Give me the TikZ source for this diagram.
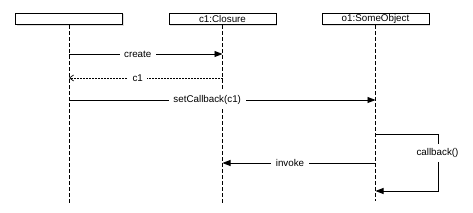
\documentclass[tikz,border=0pt]{standalone}
\usepackage{fontspec}
\setmainfont{Liberation Sans}
\usetikzlibrary{arrows.meta,shadows}
\begin{document}
\begin{tikzpicture}[x=1pt,y=-1pt,
  font=\fontsize{9.8}{11}\selectfont,
  obj/.style={draw,fill=white,line width=0.8pt,minimum width=107pt,minimum height=11.5pt,inner sep=0pt,
    drop shadow={shadow xshift=1pt,shadow yshift=-1pt,opacity=0.25}},
  life/.style={dash pattern=on 3.5pt off 2.5pt,line width=0.7pt},
  msg/.style={line width=0.8pt,-{Triangle[length=8pt,width=6pt]}},
  ret/.style={line width=0.7pt,dash pattern=on 1.5pt off 1.5pt,-{Straight Barb[length=4pt,width=6pt]}},
  lbl/.style={fill=white,inner xsep=4.5pt,inner ysep=4pt}]
\useasboundingbox (0,0) rectangle (473,213);
\node[obj] (A) at (69,19) {};
\node[obj] (B) at (222.5,19) {c1:Closure};
\node[obj] (C) at (375.5,19) {o1:SomeObject};
\coordinate (Aend) at (69,203);
\coordinate (Bend) at (222.5,203);
\coordinate (Cend) at (375.5,201);
\draw[life] (A.south) -- (Aend);
\draw[life] (B.south) -- (Bend);
\draw[life] (C.south) -- (Cend);
% create
\coordinate (a1) at (69,54);
\coordinate (b1) at (222.5,54);
\draw[msg] (a1) -- node[lbl,xshift=-8pt]{create} (b1);
% c1 return
\coordinate (a2) at (69,78);
\coordinate (b2) at (222.5,78);
\draw[ret] (b2) -- node[lbl,xshift=-8pt]{c1} (a2);
% setCallback
\coordinate (a3) at (69,100);
\coordinate (c3) at (375.5,100);
\draw[msg] (a3) -- node[lbl,xshift=-15pt]{setCallback(c1)} (c3);
% callback self
\coordinate (c4) at (375.5,134);
\coordinate (k1) at (438,134);
\coordinate (k2) at (438,191);
\coordinate (c5) at (375.5,191);
\node[lbl] (cb) at (437.5,153) {callback()};
\draw[line width=0.8pt] (c4) -- (k1) -- (cb.north -| k1);
\draw[msg] (cb.south -| k2) -- (k2) -- (c5);
% invoke
\coordinate (c6) at (375.5,163);
\coordinate (b6) at (222.5,163);
\draw[msg] (c6) -- node[lbl,xshift=-9pt]{invoke} (b6);
\end{tikzpicture}
\end{document}
